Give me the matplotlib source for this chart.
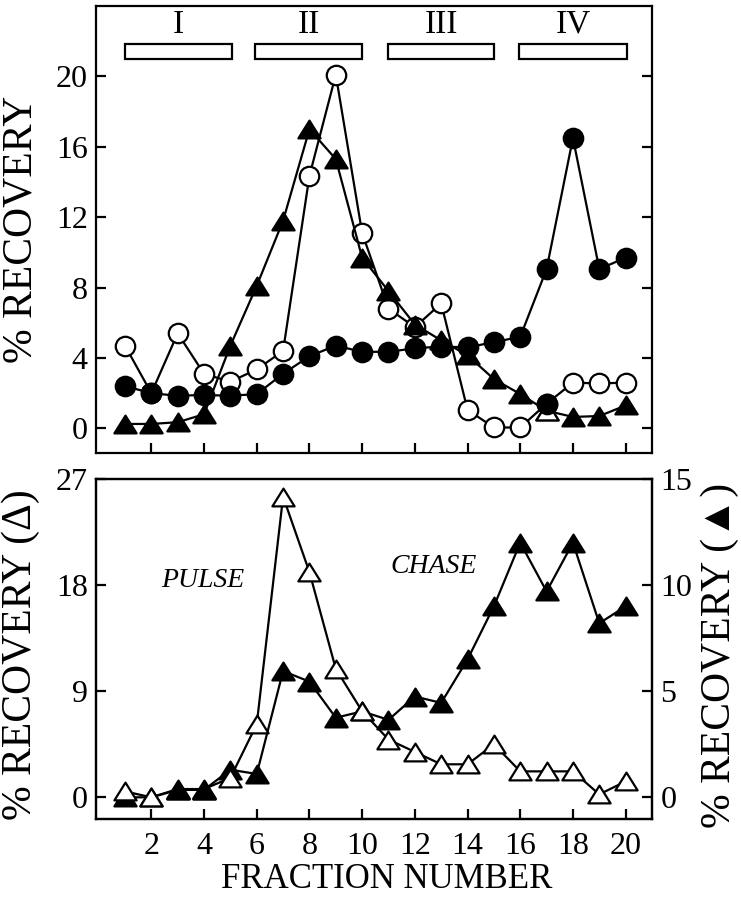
import matplotlib
matplotlib.use('Agg')
import matplotlib.pyplot as plt
from matplotlib.path import Path
from matplotlib.patches import Rectangle

# ---------------- data ----------------
fractions = list(range(1, 21))

# top panel (% recovery)
filled_circles = [2.4, 2.0, 1.85, 1.9, 1.85, 1.95, 3.1, 4.1, 4.7, 4.35,
                  4.35, 4.55, 4.65, 4.6, 4.9, 5.2, 9.05, 16.5, 9.05, 9.7]
open_circles = [4.7, 2.0, 5.4, 3.1, 2.65, 3.35, 4.4, 14.35, 20.1, 11.1,
                6.8, 5.75, 7.1, 1.05, 0.05, 0.05, 1.4, 2.6, 2.55, 2.6]
filled_triangles = [0.25, 0.25, 0.35, 0.8, 4.7, 8.1, 11.8, 17.0, 15.3, 9.7,
                    7.8, 5.9, 5.0, 4.15, 2.8, 1.95, 1.0, 0.65, 0.7, 1.3]
# points drawn with the "wrong" fill in the original figure
open_circle_drawn_filled = [17]
triangle_drawn_open = [17]

region_labels = ['I', 'II', 'III', 'IV']
region_starts = [1.0, 5.95, 11.0, 15.95]
region_ends = [5.05, 10.0, 15.0, 20.05]

# bottom panel
pulse = [0.5, 0.0, 0.7, 0.7, 1.65, 6.2, 25.5, 19.1, 10.9, 7.3,
         4.9, 3.85, 2.8, 2.8, 4.5, 2.2, 2.2, 2.2, 0.25, 1.35]      # left axis
chase = [0.0, 0.0, 0.35, 0.35, 1.3, 1.1, 5.95, 5.45, 3.75, 4.05,
         3.65, 4.75, 4.45, 6.5, 9.0, 12.0, 9.7, 12.0, 8.2, 9.0]    # right axis
chase_on_top = [3, 4]

top_yticks = [0, 4, 8, 12, 16, 20]
left_yticks = [0, 9, 18, 27]
right_yticks = [0, 5, 10, 15]
xticks = [2, 4, 6, 8, 10, 12, 14, 16, 18, 20]

# ---------------- style ----------------
SERIF = ['Liberation Serif', 'DejaVu Serif']
plt.rcParams['font.family'] = SERIF

tri = Path([(0, 0.8), (-1, -0.8), (1, -0.8), (0, 0.8)],
           [Path.MOVETO, Path.LINETO, Path.LINETO, Path.CLOSEPOLY])

LW = 1.6
MEW = 1.6
CMS = 14
TMS = 16
TICKFS = 23
LABFS = 30

fig = plt.figure(figsize=(7.41, 9.0), dpi=100)
W, H = 741, 900
L, R = 96 / W, 652 / W
ax1 = fig.add_axes([L, 1 - 453 / H, R - L, (453 - 6) / H])
ax2 = fig.add_axes([L, 1 - 819 / H, R - L, (819 - 479) / H])


def style_axis(ax):
    for s in ax.spines.values():
        s.set_linewidth(1.6)
    ax.tick_params(direction='in', length=7, width=1.6, labelsize=TICKFS, pad=6)


# ---- top panel ----
ax1.plot(fractions, open_circles, '-', color='black', lw=LW, marker='o',
         ms=CMS, mfc='white', mec='black', mew=MEW, zorder=3)
ax1.plot(fractions, filled_triangles, '-', color='black', lw=LW, marker=tri,
         ms=TMS, mfc='black', mec='black', mew=MEW, zorder=4)
ax1.plot(fractions, filled_circles, '-', color='black', lw=LW, marker='o',
         ms=CMS, mfc='black', mec='black', mew=MEW, zorder=5)
for f in triangle_drawn_open:
    ax1.plot([f], [filled_triangles[f - 1]], linestyle='none', marker=tri, ms=TMS,
             mfc='white', mec='black', mew=MEW, zorder=5.5)
for f in open_circle_drawn_filled:
    ax1.plot([f], [open_circles[f - 1]], linestyle='none', marker='o', ms=CMS,
             mfc='black', mec='black', mew=MEW, zorder=6)

for lab, s, e in zip(region_labels, region_starts, region_ends):
    ax1.add_patch(Rectangle((s, 21.0), e - s, 0.85, facecolor='white',
                            edgecolor='black', lw=1.6, zorder=2))
    ax1.text((s + e) / 2, 22.95, lab, ha='center', va='center', fontsize=24)

ax1.set_xlim(-0.1, 21.0)
ax1.set_ylim(-1.4, 24.0)
ax1.set_xticks(xticks)
ax1.set_xticklabels([])
ax1.set_yticks(top_yticks)
ax1.tick_params(axis='y', right=True)
style_axis(ax1)
ax1.tick_params(axis='x', top=False)

# ---- bottom panel ----
ax2r = ax2.twinx()
ax2.set_zorder(ax2r.get_zorder() + 1)
ax2.patch.set_visible(False)

ax2r.plot(fractions, chase, '-', color='black', lw=LW, marker=tri, ms=TMS,
          mfc='black', mec='black', mew=MEW, zorder=3)
ax2.plot(fractions, pulse, '-', color='black', lw=LW, marker=tri, ms=TMS,
         mfc='white', mec='black', mew=MEW, zorder=4)
for f in chase_on_top:
    ax2.plot([f], [chase[f - 1] * 27 / 15], linestyle='none', marker=tri, ms=TMS,
             mfc='black', mec='black', mew=MEW, zorder=5)

ax2.set_xlim(-0.1, 21.0)
ax2.set_ylim(-1.84, 27.0)
ax2r.set_ylim(-1.84 * 15 / 27, 15.0)
ax2.set_xticks(xticks)
ax2.set_yticks(left_yticks)
ax2r.set_yticks(right_yticks)
style_axis(ax2)
style_axis(ax2r)
ax2.tick_params(axis='x', pad=9)

ax2.text(3.95, 18.4, 'PULSE', style='italic', fontsize=20, ha='center', va='center')
ax2.text(12.7, 19.6, 'CHASE', style='italic', fontsize=20, ha='center', va='center')

# ---- labels ----
fig.text(21 / W, 1 - 229 / H, '% RECOVERY', rotation=90, ha='center',
         va='center', fontsize=LABFS)
fig.text(21 / W, 1 - 655 / H, '% RECOVERY (Δ)', rotation=90, ha='center',
         va='center', fontsize=LABFS)
fig.text(720 / W, 1 - 655 / H, '% RECOVERY (▲)', rotation=90, ha='center',
         va='center', fontsize=LABFS, family=SERIF)
fig.text(387 / W, 1 - 880 / H, 'FRACTION NUMBER', ha='center', va='center',
         fontsize=25)

fig.savefig('out.png', dpi=100)
